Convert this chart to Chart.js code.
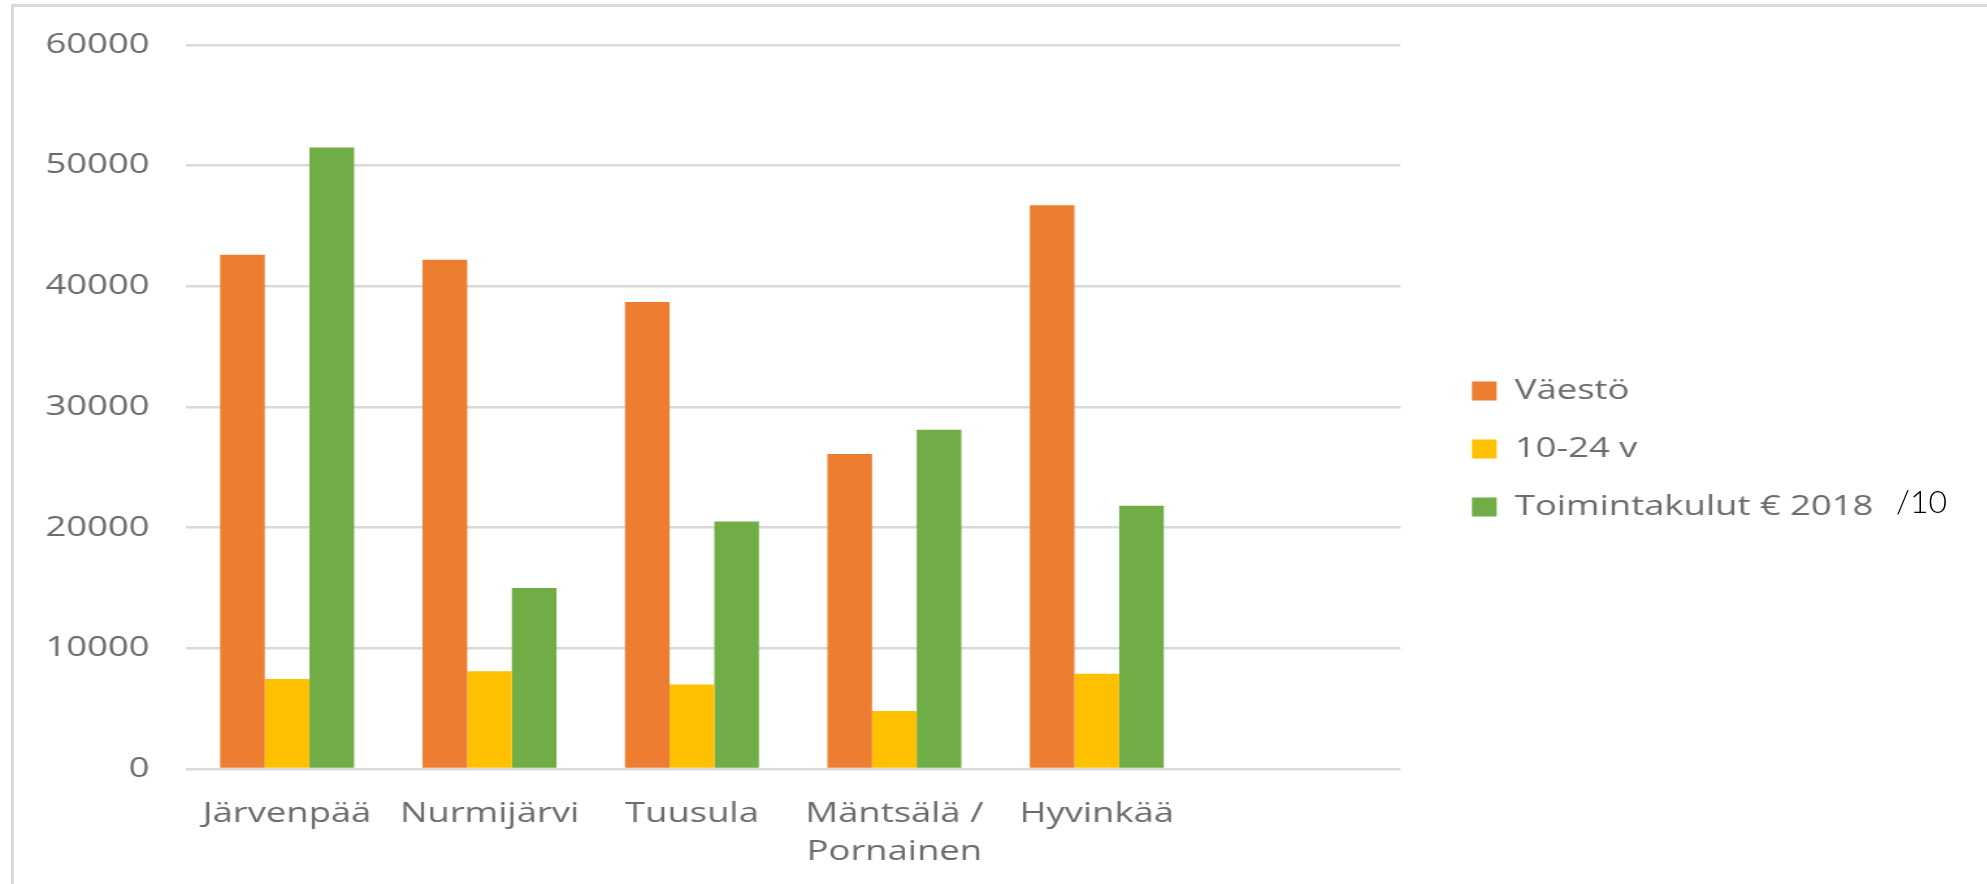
<!DOCTYPE html>
<html>
<head>
<meta charset="utf-8">
<script src="https://cdn.jsdelivr.net/npm/chart.js@4/dist/chart.umd.min.js"></script>
<style>
  body { margin: 0; background: #fff; }
  #frame { position: absolute; left: 11px; top: 4px; width: 1976px; height: 880px;
           border-left: 3px solid #dadada; border-top: 3px solid #dadada; }
  /* the original picture is stretched sideways, so the canvas is too */
  #myChart { position: absolute; left: 0; top: 0; transform: scaleX(1.3); transform-origin: 0 0; }
  #note { position: absolute; left: 1896px; top: 485px; font: 300 32px Lato, sans-serif;
          line-height: 32px; color: #000; }
</style>
</head>
<body>
<div id="frame"></div>
<canvas id="myChart" width="1528" height="884"></canvas>
<div id="note">/10</div>
<script>
// kunnat + tyhjä kuudes sarake kuten alkuperäisessä
const kunnat = ['Järvenpää', 'Nurmijärvi', 'Tuusula', ['Mäntsälä /', 'Pornainen'], 'Hyvinkää', ''];
const vaesto = [42600, 42200, 38700, 26100, 46700, null];
const nuoret = [7450, 8100, 7000, 4800, 7900, null];
const toimintakulut = [51500, 15000, 20500, 28100, 21800, null]; // € 2018 /10
const yTicks = [0, 10000, 20000, 30000, 40000, 50000, 60000];

const harmaa = '#6b6b6b';
const fontti = { family: "'Open Sans', sans-serif", size: 28 };

const ctx = document.getElementById('myChart');

new Chart(ctx, {
    type: 'bar',
    data: {
        labels: kunnat,
        datasets: [
            { label: 'Väestö', data: vaesto, backgroundColor: '#ED7D31' },
            { label: '10-24 v', data: nuoret, backgroundColor: '#FFC000' },
            { label: 'Toimintakulut € 2018', data: toimintakulut, backgroundColor: '#70AD47' }
        ]
    },
    options: {
        responsive: false,
        animation: false,
        layout: { padding: { left: 0, top: 14, right: 77, bottom: 0 } },
        datasets: { bar: { categoryPercentage: 0.662, barPercentage: 1 } },
        scales: {
            x: {
                grid: { display: false },
                border: { display: false },
                ticks: { color: harmaa, font: { ...fontti, lineHeight: 1.36 }, padding: 18, maxRotation: 0 },
                afterFit: s => { s.height = 115; }
            },
            y: {
                min: 0,
                max: 60000,
                afterBuildTicks: s => { s.ticks = yTicks.map(v => ({ value: v })); },
                grid: { color: '#d9d9d9', lineWidth: 2.5, drawTicks: false },
                border: { display: false },
                ticks: { color: harmaa, font: fontti, padding: 28, callback: v => String(v) },
                afterFit: s => { s.width = 143; }
            },
            // tyhjä akseli oikealla: väli kuvaajan ja selitteen välille
            y2: {
                type: 'linear',
                position: 'right',
                display: true,
                grid: { display: false },
                border: { display: false },
                ticks: { display: false },
                afterFit: s => { s.width = 25; }
            }
        },
        plugins: {
            tooltip: { enabled: false },
            // tyhjä otsikko vain kuvaajan yläreunan paikkaa varten
            title: { display: true, text: '', fullSize: false, padding: 0, font: { size: 25, lineHeight: 1.2 } },
            legend: {
                position: 'right',
                maxWidth: 420,
                labels: { color: harmaa, font: fontti, boxWidth: 19, boxHeight: 19, padding: 30 }
            }
        }
    }
});
</script>
</body>
</html>
